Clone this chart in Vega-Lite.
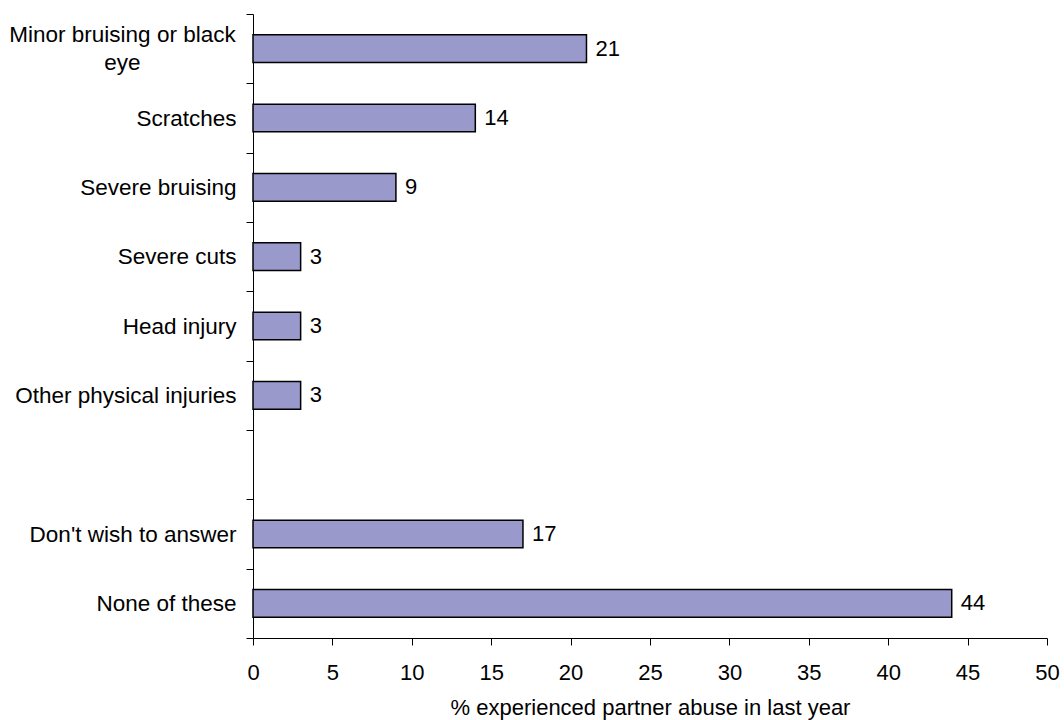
{
  "$schema": "https://vega.github.io/schema/vega-lite/v6.json",
  "width": 794,
  "height": 624,
  "autosize": {"type": "none"},
  "padding": {"left": 253, "top": 14, "right": 17, "bottom": 82},
  "background": "white",
  "config": {
    "font": "Liberation Sans",
    "view": {"stroke": null},
    "axis": {"labelFont": "Liberation Sans", "titleFont": "Liberation Sans", "labelColor": "#000", "titleColor": "#000", "domainColor": "#000", "tickColor": "#000", "grid": false}
  },
  "data": {
    "values": [
      {"injury": "Minor bruising or black eye", "pct": 21},
      {"injury": "Scratches", "pct": 14},
      {"injury": "Severe bruising", "pct": 9},
      {"injury": "Severe cuts", "pct": 3},
      {"injury": "Head injury", "pct": 3},
      {"injury": "Other physical injuries", "pct": 3},
      {"injury": "Don't wish to answer", "pct": 17},
      {"injury": "None of these", "pct": 44}
    ]
  },
  "encoding": {
    "y": {
      "field": "injury",
      "type": "nominal",
      "scale": {
        "domain": ["Minor bruising or black eye", "Scratches", "Severe bruising", "Severe cuts", "Head injury", "Other physical injuries", " ", "Don't wish to answer", "None of these"],
        "paddingInner": 0,
        "paddingOuter": 0
      },
      "axis": {
        "title": null,
        "tickBand": "extent",
        "tickSize": 7,
        "labelPadding": {"condition": {"test": "datum.value == 'Minor bruising or black eye'", "value": 124}, "value": 10},
        "labelAlign": {"condition": {"test": "datum.value == 'Minor bruising or black eye'", "value": "center"}, "value": "right"},
        "labelOffset": {"condition": {"test": "datum.value == 'Minor bruising or black eye'", "value": -14}, "value": 0},
        "labelFontSize": 22.5,
        "labelLimit": 0,
        "labelLineHeight": 28,
        "labelExpr": "datum.value == 'Minor bruising or black eye' ? ['Minor bruising or black', 'eye'] : datum.value"
      }
    },
    "x": {
      "field": "pct",
      "type": "quantitative",
      "scale": {"domain": [0, 50], "nice": false},
      "axis": {
        "title": "% experienced partner abuse in last year",
        "values": [0, 5, 10, 15, 20, 25, 30, 35, 40, 45, 50],
        "tickSize": 7,
        "labelPadding": 17,
        "labelFontSize": 22,
        "titleFontSize": 22,
        "titleFontWeight": "normal",
        "titlePadding": 14,
        "labelFlush": false
      }
    }
  },
  "layer": [
    {
      "mark": {"type": "bar", "fill": "#9999cc", "stroke": "#000", "strokeWidth": 1.5, "height": {"band": 0.4}}
    },
    {
      "mark": {"type": "text", "align": "left", "baseline": "middle", "dx": 9, "fontSize": 22, "color": "#000"},
      "encoding": {"text": {"field": "pct", "type": "quantitative"}}
    }
  ]
}
